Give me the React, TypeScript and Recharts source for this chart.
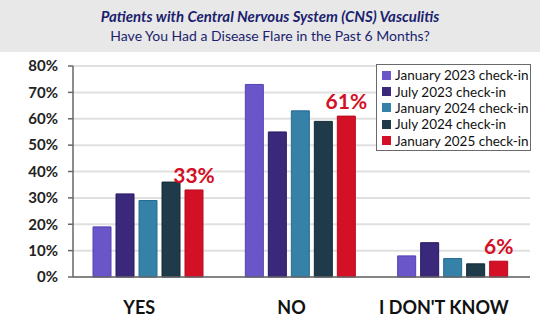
import React from "react";
import {
  BarChart,
  Bar,
  XAxis,
  YAxis,
  CartesianGrid,
  LabelList,
} from "recharts";

const categories = ["YES", "NO", "I DON'T KNOW"];
const jan2023 = [19, 73, 8];
const jul2023 = [31.5, 55, 13];
const jan2024 = [29, 63, 7];
const jul2024 = [36, 59, 5];
const jan2025 = [33, 61, 6];
const yTicks = [0, 10, 20, 30, 40, 50, 60, 70, 80];

const series = [
  { key: "jan2023", name: "January 2023 check-in", values: jan2023, fill: "#6b56c9", stroke: "#5641b3" },
  { key: "jul2023", name: "July 2023 check-in", values: jul2023, fill: "#3a297b", stroke: "#261862" },
  { key: "jan2024", name: "January 2024 check-in", values: jan2024, fill: "#3581a8", stroke: "#266c92" },
  { key: "jul2024", name: "July 2024 check-in", values: jul2024, fill: "#1f3a48", stroke: "#142a36" },
  { key: "jan2025", name: "January 2025 check-in", values: jan2025, fill: "#d31026", stroke: "#b80a1e" },
];

const data = categories.map((c, i) => {
  const row: Record<string, string | number> = { cat: c };
  series.forEach((s) => (row[s.key] = s.values[i]));
  return row;
});

const FONT = "Lato, 'Open Sans', sans-serif";

// x labels sit a bit left of the band centre in the original
function XTick(props: any) {
  const { x, y, payload } = props;
  return (
    <text
      x={x - 10}
      y={y}
      dy="0.71em"
      textAnchor="middle"
      fontFamily={FONT}
      fontWeight={700}
      fontSize={18}
      fill="#111"
    >
      {payload.value}
    </text>
  );
}

function LegendBox() {
  return (
    <div
      style={{
        position: "absolute",
        left: 376,
        top: 64,
        width: 155,
        height: 87,
        border: "1.5px solid #6a6a6a",
        background: "#fff",
        padding: "2px 4px 2px 5px",
        fontFamily: FONT,
        fontSize: 13.5,
        color: "#111",
        boxSizing: "border-box",
      }}
    >
      {series.map((s) => (
        <div
          key={s.key}
          style={{ display: "flex", alignItems: "center", height: 16.4 }}
        >
          <span
            style={{
              width: 9,
              height: 9,
              background: s.fill,
              marginRight: 4,
              flexShrink: 0,
            }}
          />
          <span style={{ whiteSpace: "nowrap" }}>{s.name}</span>
        </div>
      ))}
    </div>
  );
}

export default function App() {
  return (
    <div
      style={{
        position: "relative",
        width: 540,
        height: 331,
        background: "#fff",
        fontFamily: FONT,
      }}
    >
      <style>{`body{margin:0}`}</style>
      <div
        style={{
          position: "absolute",
          left: 0,
          top: 0,
          width: 540,
          height: 52,
          background: "#e8e8e8",
          color: "#1b1f6e",
          textAlign: "center",
          lineHeight: "20px",
          paddingTop: 6,
          boxSizing: "border-box",
        }}
      >
        <div style={{ fontWeight: 700, fontStyle: "italic", fontSize: 15 }}>
          Patients with Central Nervous System (CNS) Vasculitis
        </div>
        <div style={{ fontSize: 14 }}>
          Have You Had a Disease Flare in the Past 6 Months?
        </div>
      </div>
      <div style={{ position: "absolute", left: 0, top: 0 }}>
        <BarChart
          width={540}
          height={331}
          data={data}
          margin={{ top: 66, right: 10, bottom: 0, left: 0 }}
          barGap={5}
          barCategoryGap={20}
        >
          <CartesianGrid
            vertical={false}
            stroke="#e0e0e0"
            strokeWidth={2}
          />
          <XAxis
            dataKey="cat"
            height={54}
            tickLine={false}
            tickMargin={18}
            axisLine={{ stroke: "#666", strokeWidth: 1.5 }}
            tick={<XTick />}
          />
          <YAxis
            width={73}
            domain={[0, 80]}
            ticks={yTicks}
            tickSize={5}
            tickMargin={10}
            tickFormatter={(v) => `${v}%`}
            axisLine={{ stroke: "#666", strokeWidth: 1.5 }}
            tickLine={{ stroke: "#666", strokeWidth: 1.5 }}
            tick={{
              fontFamily: FONT,
              fontWeight: 700,
              fontSize: 15,
              fill: "#222",
            }}
          />
          {series.map((s) => (
            <Bar
              key={s.key}
              dataKey={s.key}
              name={s.name}
              fill={s.fill}
              stroke={s.stroke}
              strokeWidth={1}
              isAnimationActive={false}
            >
              {s.key === "jan2025" && (
                <LabelList
                  dataKey={s.key}
                  position="top"
                  offset={7}
                  formatter={(v: any) => `${v}%`}
                  fill="#d31026"
                  fontFamily={FONT}
                  fontWeight={700}
                  fontSize={21}
                />
              )}
            </Bar>
          ))}
        </BarChart>
      </div>
      <LegendBox />
    </div>
  );
}
